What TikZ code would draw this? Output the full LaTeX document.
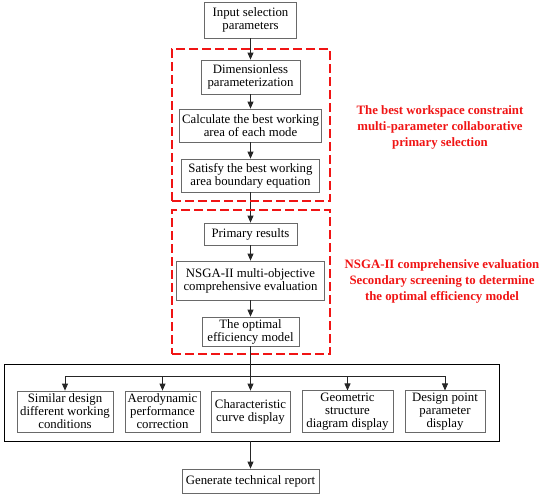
\documentclass[tikz,border=0pt]{standalone}
\usepackage{fontspec}
\setmainfont{Liberation Serif}
\usetikzlibrary{arrows.meta,positioning,fit}
\definecolor{boxgray}{RGB}{105,105,105}
\definecolor{notered}{RGB}{240,20,20}
\tikzset{
  flowbox/.style={draw=boxgray,line width=0.8pt,align=center,inner sep=2pt,
    font=\fontsize{12.8}{13}\selectfont},
  flowarrow/.style={-{Triangle[length=7pt,width=6pt]},line width=0.8pt,draw=black!85,fill=black!85},
  redgroup/.style={draw=notered,dash pattern=on 9pt off 4pt,line width=1.4pt,inner sep=0pt},
  note/.style={text=notered,align=center,font=\bfseries\fontsize{12.8}{16}\selectfont}
}

\begin{document}
\begin{tikzpicture}[x=1pt,y=-1pt]
    \useasboundingbox (0,0) rectangle (550,499);
    % main column
    \node[flowbox,minimum width=92pt,minimum height=36pt] (in) at (250.5,20) {Input selection\\parameters};
    \node[flowbox,minimum width=99pt,minimum height=34pt] (dim) at (250.5,77) {Dimensionless\\parameterization};
    \node[flowbox,minimum width=142pt,minimum height=33pt] (calc) at (250.5,125.5) {Calculate the best working\\area of each mode};
    \node[flowbox,minimum width=138pt,minimum height=33pt] (sat) at (250.5,175.5) {Satisfy the best working\\area boundary equation};
    \node[flowbox,minimum width=93pt,minimum height=22pt] (prim) at (250.5,234) {Primary results};
    \node[flowbox,minimum width=148pt,minimum height=39pt] (nsga) at (250.5,280.5) {NSGA-II multi-objective\\comprehensive evaluation};
    \node[flowbox,minimum width=97pt,minimum height=29pt] (opt) at (250.5,331.5) {The optimal\\efficiency model};
    \foreach \a/\b in {in/dim,dim/calc,calc/sat,sat/prim,prim/nsga,nsga/opt}
      \draw[flowarrow] (\a) -- (\b);

    % dashed groups and their notes
    \node[redgroup,fit={(172,49) (330,201)}] (grp1) {};
    \node[redgroup,fit={(172,210) (330,354)}] (grp2) {};
    \node[note] (note1) at (440,127) {The best workspace constraint\\multi-parameter collaborative\\primary selection};
    \node[note] (note2) at (442,281.5) {NSGA-II comprehensive evaluation\\Secondary screening to determine\\the optimal efficiency model};

    % output row
    \node[draw,line width=0.8pt,inner sep=0pt,fit={(4,364) (499,441)}] (disp) {};
    \coordinate (bus) at (250.5,376);
    \foreach \t/\w/\x [count=\i] in {
      {Similar design\\different working\\conditions}/96/65,
      {Aerodynamic\\performance\\correction}/75/162.5,
      {Characteristic\\curve display}/79/250.5,
      {Geometric\\structure\\diagram display}/91/347.5,
      {Design point\\parameter\\display}/80/445}
    {
      \node[flowbox,minimum width=\w pt,minimum height=41pt] (b\i) at (\x,411.5) {\t};
    }
    \draw[line width=0.8pt,draw=black!85] (b1.north |- bus) -- (b5.north |- bus);
    \foreach \i in {1,2,4,5}
      \draw[flowarrow] (b\i.north |- bus) -- (b\i.north);
    \draw[flowarrow] (opt) -- (b3);

    \node[flowbox,minimum width=137pt,minimum height=24pt] (rep) at (250.5,481) {Generate technical report};
    \draw[flowarrow] (disp.south -| rep.north) -- (rep);
  \end{tikzpicture}
\end{document}
